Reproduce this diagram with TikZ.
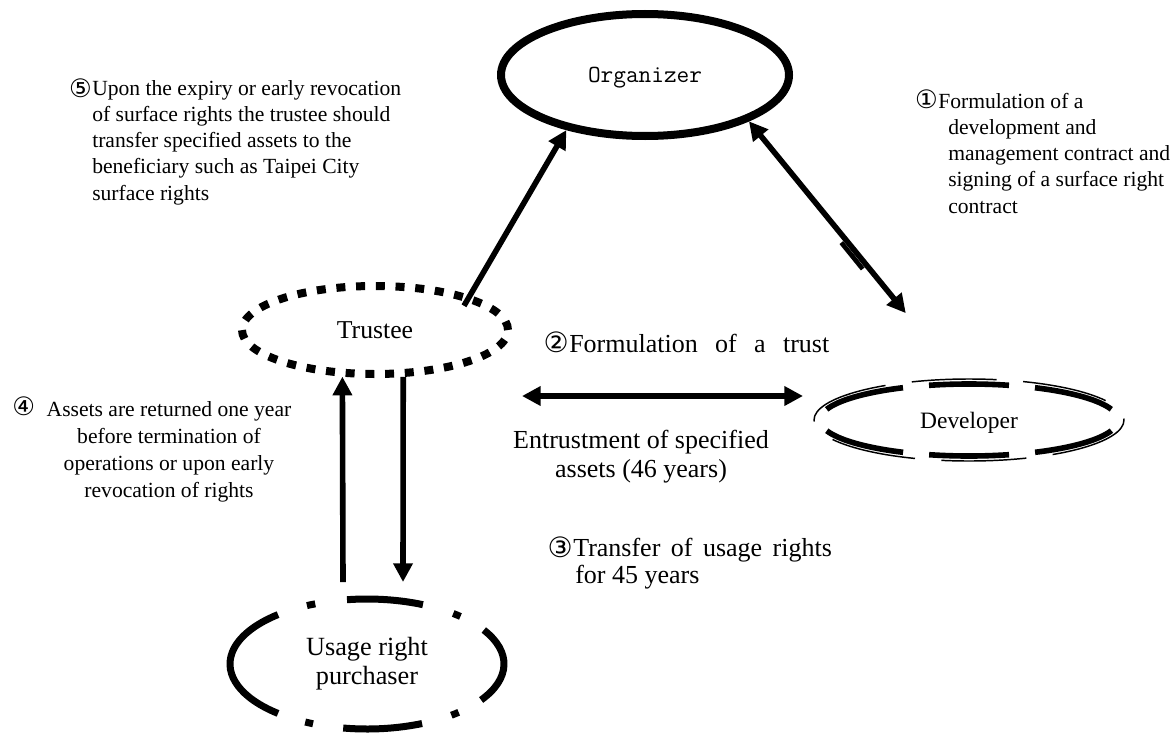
\documentclass[tikz,border=0pt]{standalone}
\usepackage{fontspec}
\setmainfont{Liberation Serif}
\newfontfamily\symfont{DejaVu Sans}
\usetikzlibrary{arrows.meta,shapes.geometric}
\newcommand\fsz[2]{\fontsize{#1}{#2}\selectfont}
\begin{document}
\begin{tikzpicture}[x=0.75pt,y=-0.75pt,
  tip/.tip={Triangle[length=14pt,width=14pt]},
  arr/.style={line width=4.2pt,-tip},
  darr/.style={line width=4.2pt,tip-tip},
  body/.style={inner sep=0pt,font=\fsz{16.2pt}{19.6pt}},
  big/.style={inner sep=0pt,font=\fsz{19.5pt}{21.75pt}},
  circ/.style={inner sep=0pt,font=\symfont\fsz{19pt}{19pt}},
  circb/.style={inner sep=0pt,font=\symfont\fsz{21pt}{21pt}},
  oval/.style={ellipse,inner sep=0pt},
  purdash/.style={line width=5.25pt}]
\useasboundingbox (0,0) rectangle (1176,735);

% ellipses
\node[oval,draw,line width=6pt,minimum width=216pt,minimum height=91.5pt,
      text depth=0pt,font=\ttfamily\fsz{18.45pt}{18pt}] (org) at (645,75) {Organizer};
\node[oval,draw,line width=6pt,dash pattern=on 6.75pt off 8.05pt,
      minimum width=199.5pt,minimum height=66pt,font=\fsz{19.3pt}{20pt}] (trustee) at (375,330) {Trustee};
\node[oval,draw,line width=4.2pt,dash pattern=on 60pt off 19.6pt,dash phase=69.8pt,
      minimum width=223.5pt,minimum height=54pt,text depth=0pt,font=\fsz{17.6pt}{18pt}] (dev) at (969,420) {Developer};
\draw[line width=1.1pt,dash pattern=on 63.75pt off 19.9pt,dash phase=1.3pt]
      (dev.center) ellipse [x radius=155,y radius=41];
\node[oval,minimum width=205.5pt,minimum height=97.5pt,align=center,
      font=\fsz{19.7pt}{21.75pt}] (pur) at (367,664) {Usage right\\purchaser};
\foreach \a/\b in {-31.5/33.6, 48/52, 66.3/100, 113.2/116.8, 130.5/229.5, 244/247.8, 261.6/294.1, 309/313}
  \draw[purdash] ([shift={(\a:137 and 65)}]pur.center) arc[start angle=\a,end angle=\b,x radius=137,y radius=65];

% connectors
\coordinate (h1) at (522,396);
\coordinate (h2) at (803,396);
\coordinate (u1) at (343,582);
\coordinate (d1) at (403,582);
\draw[arr,shorten <=-9pt] (trustee.20) -- (org.215);
\draw[darr,shorten >=66pt] (org.336) -- (dev.101);
\draw[line width=3.5pt] (841.3,242.6) -- (862.7,269);
\draw[darr] (h1) -- (h2);
\draw[arr] (u1) -- (trustee.235);
\draw[arr] (trustee.301) -- (d1);

% texts (multi-line nodes are placed by the baseline of their last line)
\node[circ,anchor=base east] (s5) at (92,97) {⑤};
\node[body,anchor=base west,align=left] (t5) at (92,200)
  {Upon the expiry or early revocation\\of surface rights the trustee should\\transfer specified assets to the\\beneficiary such as Taipei City\\surface rights};
\node[circ,anchor=base east] (s1) at (938,108) {①};
\node[body,anchor=base west,align=left] (t1) at (948,213)
  {\hspace*{-7.5pt}Formulation of a\\development and\\management contract and\\signing of a surface right\\contract};
\node[circ,anchor=base west] (s4) at (12,415) {④};
\node[body,anchor=base,align=center,font=\fsz{16.2pt}{20.2pt}] (t4) at (169,497)
  {Assets are returned one year\\before termination of\\operations or upon early\\revocation of rights};
\node[circb,anchor=base east] (s2) at (569,352) {②};
\node[big,anchor=base west] (t2) at (569,352) {\makebox[195pt][s]{Formulation of a trust}};
\node[big,anchor=base,align=center] (t6) at (641,477) {Entrustment of specified\\assets (46 years)};
\node[circb,anchor=base east] (s3) at (573,557) {③};
\node[big,anchor=base west,align=left,font=\fsz{19.5pt}{19.8pt}] (t3) at (573,583)
  {\makebox[194pt][s]{Transfer of usage rights}\\\hspace*{1.5pt}for 45 years};
\end{tikzpicture}
\end{document}
